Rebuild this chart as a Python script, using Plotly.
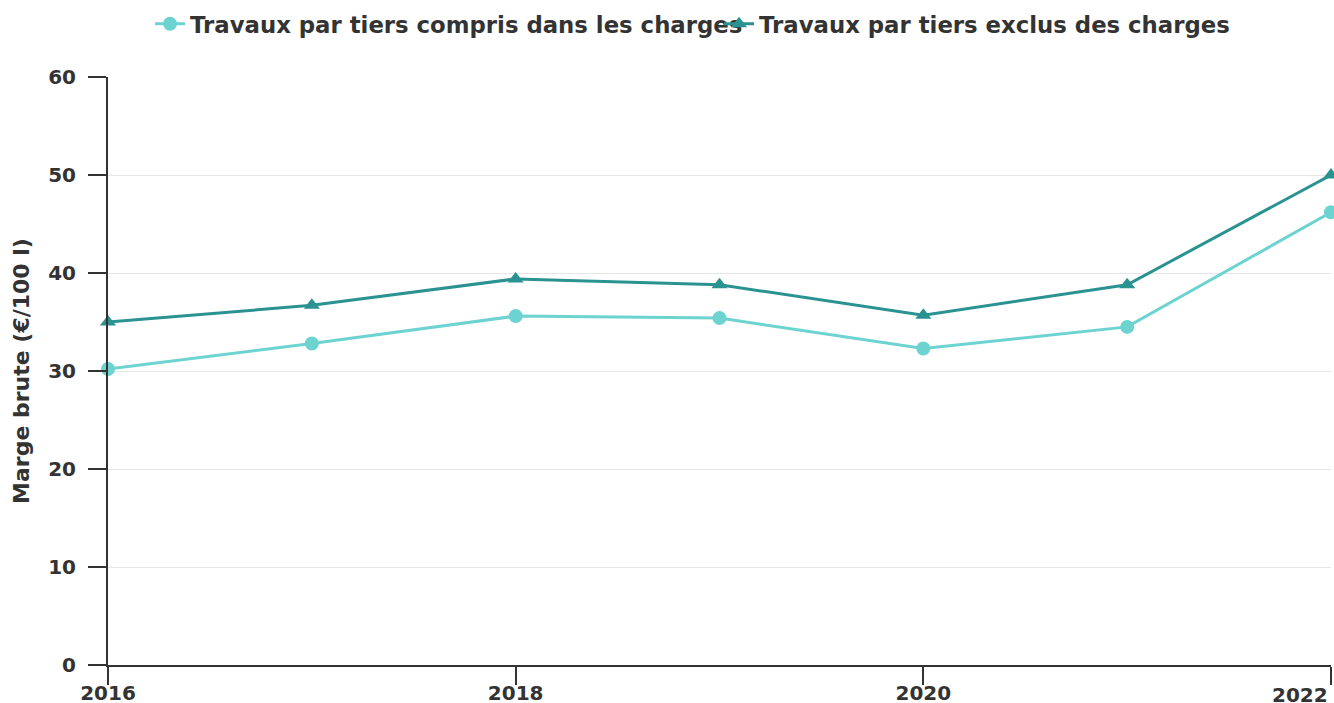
import plotly.graph_objects as go

years = [2016, 2017, 2018, 2019, 2020, 2021, 2022]
compris = [30.2, 32.8, 35.6, 35.4, 32.3, 34.5, 46.2]
exclus = [35.0, 36.7, 39.4, 38.8, 35.7, 38.8, 50.0]
name_compris = "Travaux par tiers compris dans les charges"
name_exclus = "Travaux par tiers exclus des charges"
y_title = "Marge brute (€/100 l)"
x_ticks = [2016, 2018, 2020, 2022]
x_ticktext = ["2016", "2018", "2020", ""]
last_x_label = "2022"
y_ticks = [0, 10, 20, 30, 40, 50, 60]

c1 = "#6dd3d1"
c2 = "#2a9391"
txt = "#333333"
font = "DejaVu Sans"

W, H = 1334, 703

fig = go.Figure()
fig.add_trace(go.Scatter(x=years, y=compris, name=name_compris, mode="lines+markers",
                         line=dict(color=c1, width=3),
                         marker=dict(symbol="circle", size=14, color=c1),
                         cliponaxis=False))
fig.add_trace(go.Scatter(x=years, y=exclus, name=name_exclus, mode="lines+markers",
                         line=dict(color=c2, width=3),
                         marker=dict(symbol="triangle-up", size=14, color=c2),
                         cliponaxis=False))

fig.add_annotation(x=x_ticks[-1], y=0, xref="x", yref="paper", text=last_x_label,
                   showarrow=False, xanchor="right", yanchor="top", yshift=-16, xshift=-1,
                   font=dict(family=font, size=20, color=txt, weight="bold"))

fig.update_layout(
    width=W, height=H,
    margin=dict(l=108, r=3, t=77, b=38, autoexpand=False),
    paper_bgcolor="white", plot_bgcolor="white",
    font=dict(family=font, color=txt, size=20),
    showlegend=True,
    legend=dict(orientation="h", x=150 / W, xref="container", xanchor="left",
                y=1 - 24 / H, yref="container", yanchor="middle",
                font=dict(family=font, size=22.8, color=txt, weight="bold"),
                entrywidth=524, entrywidthmode="pixels",
                itemwidth=30, traceorder="normal", bgcolor="rgba(0,0,0,0)"),
    xaxis=dict(range=[2016, 2022], tickvals=x_ticks, ticktext=x_ticktext,
               showgrid=False, zeroline=False, automargin=False,
               showline=True, linecolor=txt, linewidth=2,
               ticks="outside", ticklen=18, tickwidth=2, tickcolor=txt,
               ticklabelstandoff=-9,
               tickfont=dict(family=font, size=20, color=txt, weight="bold")),
    yaxis=dict(range=[0, 60], tickvals=y_ticks, showgrid=True, gridcolor="#e6e6e6", gridwidth=1,
               zeroline=False, showline=True, linecolor=txt, linewidth=2, automargin=False,
               ticks="outside", ticklen=18, tickwidth=2, tickcolor=txt,
               ticklabelstandoff=8,
               tickfont=dict(family=font, size=20, color=txt, weight="bold")),
)
fig.update_yaxes(title=dict(text=y_title, standoff=12,
                            font=dict(family=font, size=22, color=txt, weight="bold")))

fig.write_html("out.html",
               config={"displayModeBar": False},
               post_script="document.body.style.margin='0';document.body.style.overflow='hidden';")
